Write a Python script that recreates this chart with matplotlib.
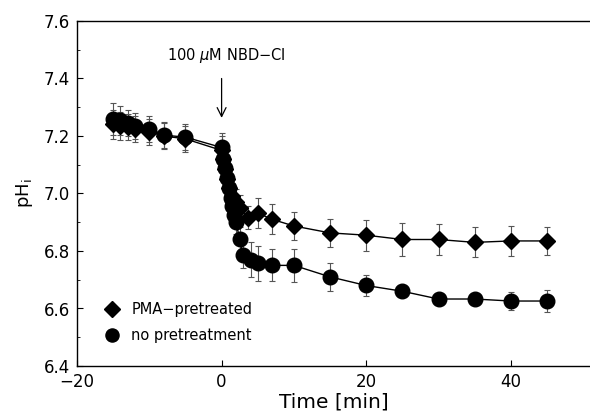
import matplotlib
matplotlib.use("Agg")
import matplotlib.pyplot as plt
from matplotlib.ticker import MultipleLocator

# no pretreatment (circles)
t_no = [-15, -14, -13, -12, -10, -8, -5, 0, 0.25, 0.5, 0.75, 1, 1.25, 1.5, 1.75, 2,
        2.5, 3, 4, 5, 7, 10, 15, 20, 25, 30, 35, 40, 45]
ph_no = [7.26, 7.255, 7.245, 7.235, 7.225, 7.203, 7.196, 7.16, 7.12, 7.09, 7.055, 7.02,
         6.985, 6.955, 6.925, 6.90, 6.84, 6.785, 6.77, 6.757, 6.75, 6.75, 6.71, 6.68,
         6.66, 6.633, 6.633, 6.626, 6.626]
err_no = [0.055, 0.05, 0.045, 0.045, 0.045, 0.045, 0.045, 0.05, 0.04, 0.04, 0.04, 0.04,
          0.04, 0.04, 0.04, 0.04, 0.045, 0.045, 0.06, 0.06, 0.056, 0.057, 0.049, 0.035,
          0.02, 0.02, 0.02, 0.03, 0.037]

# PMA-pretreated (diamonds)
t_pma = [-15, -14, -13, -12, -10, -8, -5, 0, 0.25, 0.5, 0.75, 1, 1.5, 2, 2.5, 3.6, 5,
         7, 10, 15, 20, 25, 30, 35, 40, 45]
ph_pma = [7.24, 7.235, 7.23, 7.225, 7.215, 7.20, 7.19, 7.15, 7.12, 7.085, 7.05, 7.02,
          6.99, 6.97, 6.95, 6.915, 6.932, 6.91, 6.887, 6.863, 6.855, 6.84, 6.84, 6.83,
          6.835, 6.835]
err_pma = [0.05, 0.05, 0.045, 0.045, 0.045, 0.045, 0.045, 0.05, 0.045, 0.045, 0.045,
           0.045, 0.045, 0.045, 0.045, 0.04, 0.052, 0.052, 0.05, 0.05, 0.054, 0.058,
           0.055, 0.052, 0.052, 0.05]

fig = plt.figure(figsize=(5.9, 4.2), dpi=100)
ax = fig.add_axes([77/590, 54/420, 1 - 77/590, 345/420])

ax.errorbar(t_pma, ph_pma, yerr=err_pma, fmt='none', ecolor='#555555', elinewidth=0.8,
            capsize=2, capthick=0.8, zorder=1)
ax.errorbar(t_no, ph_no, yerr=err_no, fmt='none', ecolor='#555555', elinewidth=0.8,
            capsize=2, capthick=0.8, zorder=1)
ax.plot(t_pma, ph_pma, '-', color='black', lw=1, marker='D', markersize=8.5,
        label='PMA\u2212pretreated', zorder=3)
ax.plot(t_no, ph_no, '-', color='black', lw=1, marker='o', markersize=10.5,
        label='no pretreatment', zorder=4)

ax.set_xlim(-20, -20 + 513/7.23)
ax.set_ylim(6.4, 7.6)
ax.set_xticks([-20, 0, 20, 40])
ax.set_xticklabels(['\u221220', '0', '20', '40'])
ax.set_yticks([6.4, 6.6, 6.8, 7.0, 7.2, 7.4, 7.6])
ax.set_yticklabels(['6.4', '6.6', '6.8', '7.0', '7.2', '7.4', '7.6'])
ax.yaxis.set_minor_locator(MultipleLocator(0.1))
ax.tick_params(direction='in', length=4, labelsize=12, pad=5)
ax.tick_params(which='minor', direction='in', length=2.5)
ax.spines['right'].set_visible(False)
for s in ['left', 'bottom', 'top']:
    ax.spines[s].set_linewidth(1.0)

ax.set_xlabel('Time [min]', fontsize=14.5, labelpad=1)
ax.set_ylabel('pH$_\\mathrm{i}$', fontsize=13, labelpad=6)

ax.text(0.7, 7.48, '100 $\\mu$M NBD\u2212Cl', ha='center', va='center', fontsize=10.5)
ax.annotate('', xy=(0, 7.263), xytext=(0, 7.40),
            arrowprops=dict(arrowstyle='->', color='black', lw=0.9,
                            shrinkA=0, shrinkB=0, mutation_scale=16))

ax.legend(loc='lower left', bbox_to_anchor=(0.035, 0.015), frameon=False, fontsize=10.5,
          handlelength=0, handletextpad=1.3, labelspacing=0.75, borderaxespad=0.8,
          markerscale=0.9)

fig.savefig('out.png', dpi=100)
